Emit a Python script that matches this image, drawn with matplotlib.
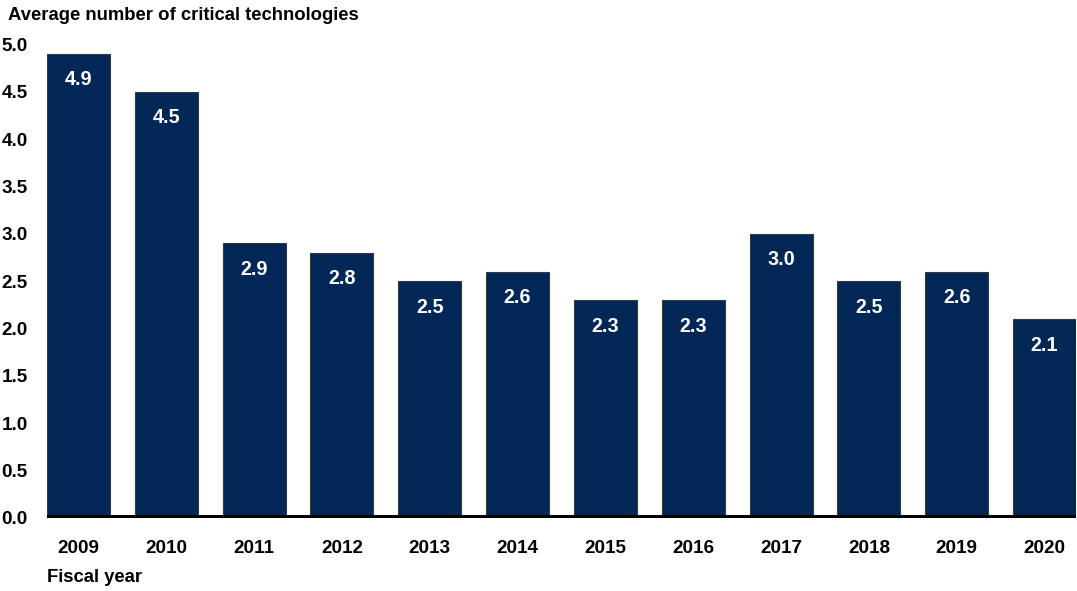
import numpy as np
import matplotlib.pyplot as plt

years = ["2009", "2010", "2011", "2012", "2013", "2014",
         "2015", "2016", "2017", "2018", "2019", "2020"]
avg_critical_tech = [4.9, 4.5, 2.9, 2.8, 2.5, 2.6, 2.3, 2.3, 3.0, 2.5, 2.6, 2.1]
y_ticks = [0.0, 0.5, 1.0, 1.5, 2.0, 2.5, 3.0, 3.5, 4.0, 4.5, 5.0]

plt.rcParams['font.family'] = ['Liberation Sans', 'DejaVu Sans']
plt.rcParams['font.weight'] = 'bold'

navy = '#012756'

fig = plt.figure(figsize=(10.77, 5.91), dpi=100)
ax = fig.add_axes([47 / 1077, 73 / 591, 1029 / 1077, 473.5 / 591])

x = np.arange(len(years))
bars = ax.bar(x, avg_critical_tech, width=0.716, color=navy,
              edgecolor='#3a3a3a', linewidth=0.8, zorder=2)

# value labels sit inside each bar, just under its top
for rect, v in zip(bars, avg_critical_tech):
    ax.annotate(f"{v:.1f}", (rect.get_x() + rect.get_width() / 2, v),
                xytext=(0, -26), textcoords='offset pixels',
                ha='center', va='center', color='white',
                fontsize=14.2, fontweight='bold')

ax.axhline(0, color='black', linewidth=4.3, zorder=3)

ax.set_xlim(-0.358, len(years) - 1 + 0.358)
ax.set_ylim(0, 5.0)
ax.set_yticks(y_ticks)
ax.set_yticklabels([f"{t:.1f}" for t in y_ticks])
ax.set_xticks(x)
ax.set_xticklabels(years)
ax.tick_params(axis='both', length=0, labelsize=13.6)
ax.tick_params(axis='y', pad=14)
ax.tick_params(axis='x', pad=15.5)
for side in ax.spines.values():
    side.set_visible(False)

fig.text(8 / 1077, 1 - 16 / 591, "Average number of critical technologies",
         ha='left', va='center', fontsize=13.3, fontweight='bold')
fig.text(47 / 1077, 1 - 578 / 591, "Fiscal year",
         ha='left', va='center', fontsize=13.3, fontweight='bold')

fig.savefig("out.png", dpi=100)
